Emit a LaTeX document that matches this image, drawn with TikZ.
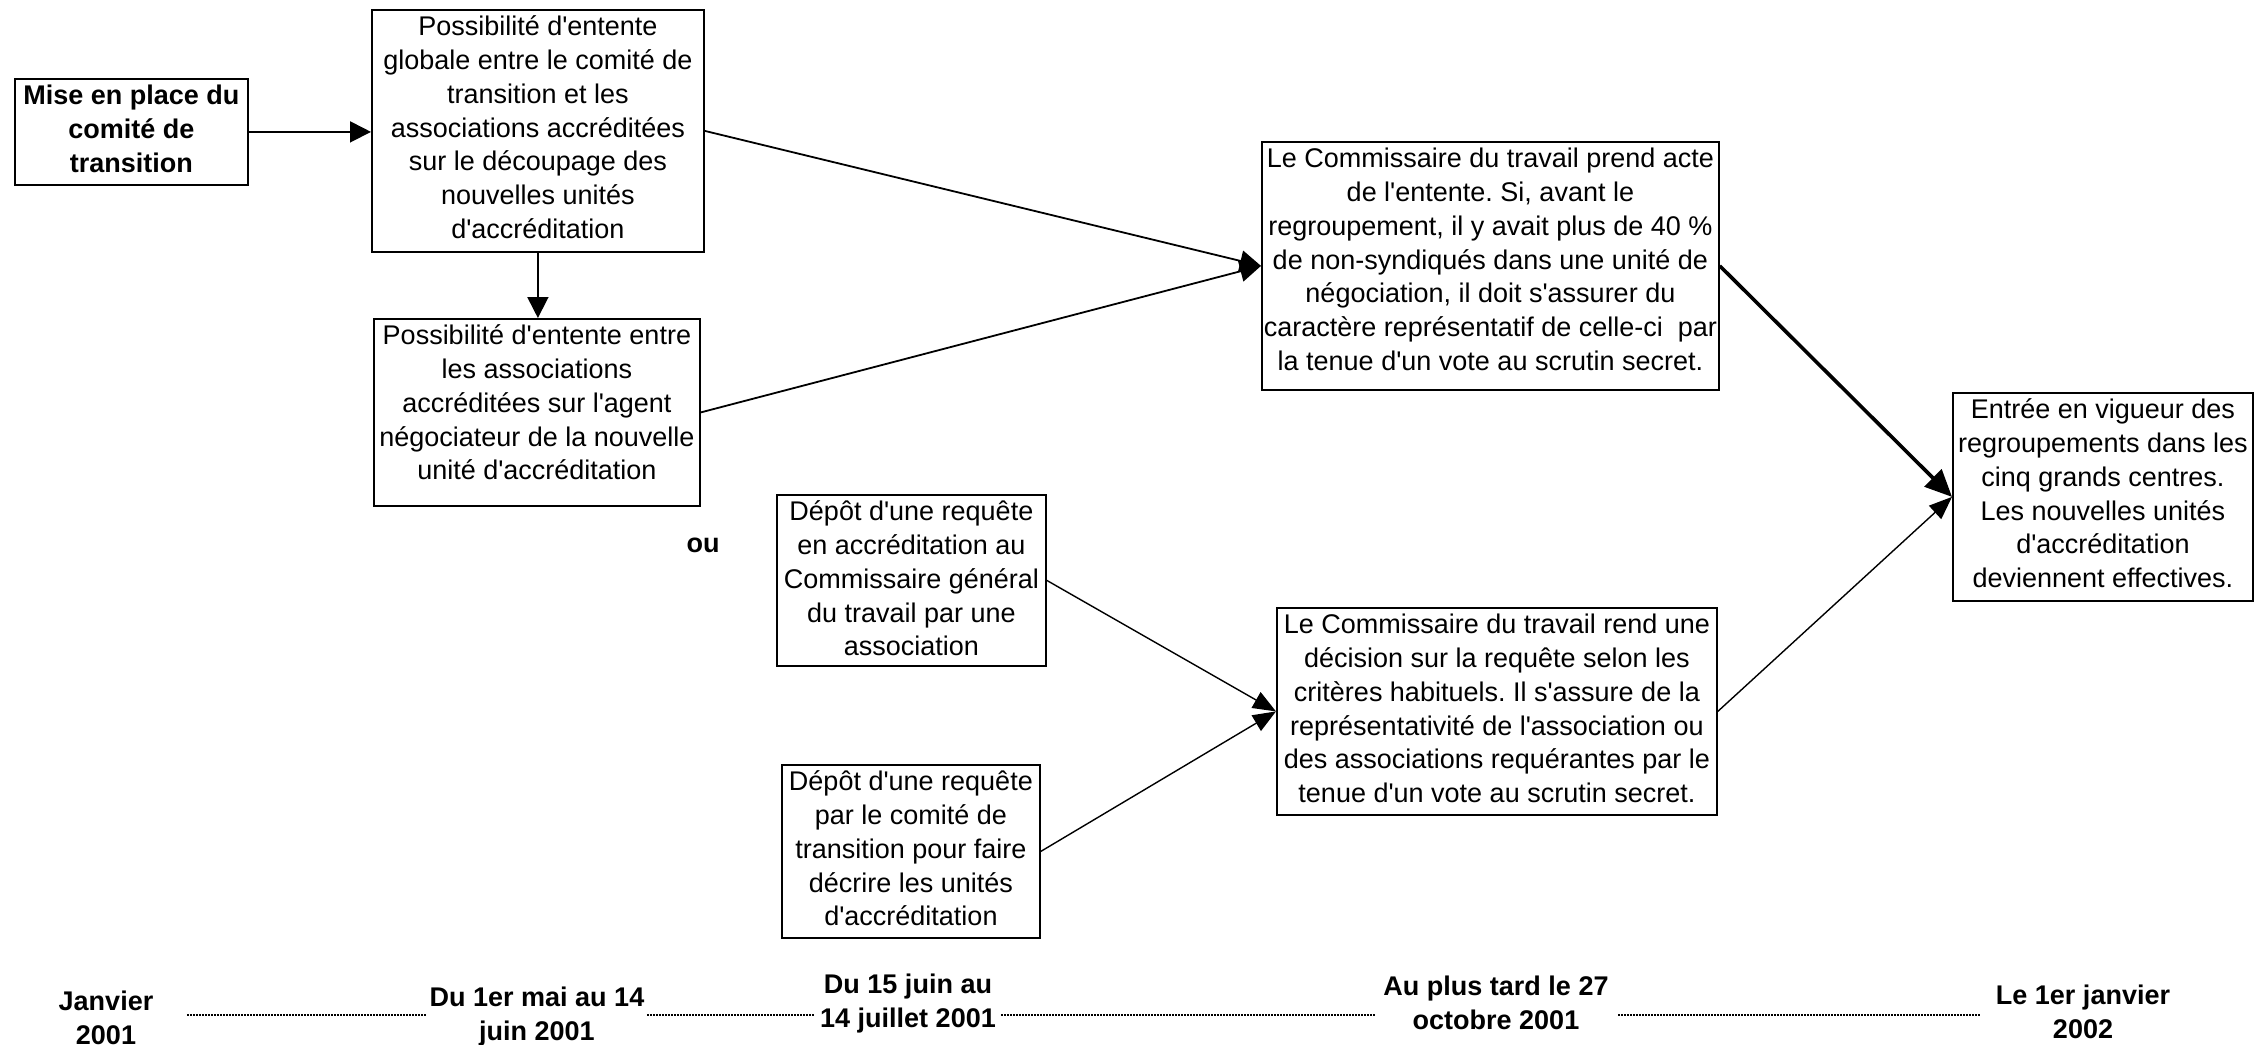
\documentclass[tikz,border=0pt]{standalone}
\usepackage{fontspec}
\setmainfont{Liberation Sans}[Ligatures=TeXOff]
\usetikzlibrary{arrows.meta,calc}
\newcommand\fl{\rule{0pt}{26.5pt}}
\frenchspacing
\begin{document}
\frenchspacing
\begin{tikzpicture}[x=1pt,y=-1pt,
  box/.style={draw, line width=1.8pt, rectangle, inner sep=0pt, anchor=north west},
  txt/.style={anchor=north, align=center, inner sep=0pt, font=\fontsize{27}{33.8}\selectfont\frenchspacing},
  lbl/.style={anchor=north, align=center, inner sep=0pt, font=\fontsize{27}{33.8}\selectfont\bfseries\frenchspacing},
  arr/.style={line width=1.8pt, -{Triangle[length=21pt,width=21pt]}},
  arrthin/.style={line width=1.4pt, -{Triangle[length=23pt,width=18pt]}},
  arrthick/.style={line width=3.6pt, -{Triangle[length=27pt,width=24pt]}},
  tl/.style={line width=1.6pt, dash pattern=on 1.5pt off 1.5pt}
]
\useasboundingbox (0,0) rectangle (2256,1044);
\fill[white] (0,0) rectangle (2256,1044);

% boxes
\node[box, minimum width=233pt, minimum height=106pt] (mise) at (14,78) {};
\node[lbl] (mise-t) at (mise.north) {\fl Mise en place du\\comité de\\transition};

\node[box, minimum width=332pt, minimum height=242pt] (A) at (371,9) {};
\node[txt] (A-t) at (A.north) {\fl Possibilité d'entente\\globale entre le comité de\\transition et les\\associations accréditées\\sur le découpage des\\nouvelles unités\\d'accréditation};

\node[box, minimum width=326pt, minimum height=187pt] (B) at (373,318) {};
\node[txt] (B-t) at (B.north) {\fl Possibilité d'entente entre\\les associations\\accréditées sur l'agent\\négociateur de la nouvelle\\unité d'accréditation};

\node[box, minimum width=457pt, minimum height=248pt] (C) at (1261,141) {};
\node[txt] (C-t) at (C.north) {\fl Le Commissaire du travail prend acte\\de l'entente. Si, avant le\\regroupement, il y avait plus de 40 \%\\de non-syndiqués dans une unité de\\négociation, il doit s'assurer du\\caractère représentatif de celle-ci\ \ par\\la tenue d'un vote au scrutin secret.};

\node[box, minimum width=300pt, minimum height=208pt] (D) at (1952,392) {};
\node[txt] (D-t) at (D.north) {\fl Entrée en vigueur des\\regroupements dans les\\cinq grands centres.\\Les nouvelles unités\\d'accréditation\\deviennent effectives.};

\node[box, minimum width=269pt, minimum height=171pt] (E) at (776,494) {};
\node[txt] (E-t) at (E.north) {\fl Dépôt d'une requête\\en accréditation au\\Commissaire général\\du travail par une\\association};

\node[box, minimum width=258pt, minimum height=173pt] (F) at (781,764) {};
\node[txt] (F-t) at (F.north) {\fl Dépôt d'une requête\\par le comité de\\transition pour faire\\décrire les unités\\d'accréditation};

\node[box, minimum width=440pt, minimum height=207pt] (G) at (1276,607) {};
\node[txt] (G-t) at (G.north) {\fl Le Commissaire du travail rend une\\décision sur la requête selon les\\critères habituels. Il s'assure de la\\représentativité de l'association ou\\des associations requérantes par le\\tenue d'un vote au scrutin secret.};

\node[lbl, anchor=base] (ou) at (703,552) {ou};

% timeline
\node[lbl] (t1) at (106,984) {\fl Janvier\\2001};
\node[lbl] (t2) at (537,979.5) {\fl Du 1er mai au 14\\juin 2001};
\node[lbl] (t3) at (908,966.5) {\fl Du 15 juin au\\14 juillet 2001};
\node[lbl] (t4) at (1496,968.5) {\fl Au plus tard le 27\\octobre 2001};
\node[lbl] (t5) at (2083,977.5) {\fl Le 1er janvier\\2002};
\coordinate (d1a) at (187,1015); \coordinate (d1b) at (426,1015);
\coordinate (d2a) at (647,1015); \coordinate (d2b) at (815,1015);
\coordinate (d3a) at (1001,1015); \coordinate (d3b) at (1375,1015);
\coordinate (d4a) at (1618,1015); \coordinate (d4b) at (1981,1015);
\draw[tl] (d1a) -- (d1b);
\draw[tl] (d2a) -- (d2b);
\draw[tl] (d3a) -- (d3b);
\draw[tl] (d4a) -- (d4b);

% connectors
\draw[arr] (mise.east) -- (mise.east -| A.west);
\draw[arr] (A.south) -- (A.south |- B.north);
\draw[arr] (A.east) -- (C.west);
\draw[arr] (B.east) -- (C.west);
\draw[arrthick] (C.east) -- (D.west);
\draw[arrthin] (G.east) -- (D.west);
\draw[arrthin] (E.east) -- (G.west);
\draw[arrthin] (F.east) -- (G.west);
\end{tikzpicture}
\end{document}
